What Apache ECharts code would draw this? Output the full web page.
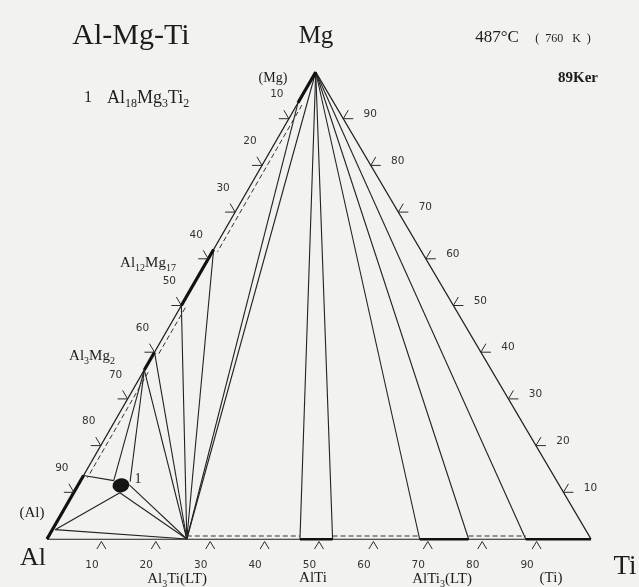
<!DOCTYPE html>
<html>
<head>
<meta charset="utf-8">
<script src="https://cdn.jsdelivr.net/npm/echarts@6/dist/echarts.min.js"></script>
<style>
  html, body { margin: 0; padding: 0; background: #f2f2f0; }
  #chart { width: 639px; height: 587px; }
</style>
</head>
<body>
<div id="chart"></div>
<script>
// Compositions in at.%, written as [Al, Mg, Ti]
const AL = [100, 0, 0];
const MG = [0, 100, 0];
const TI = [0, 0, 100];
const MG_SS_LIMIT = [6.6, 93.4, 0];
const AL12MG17_MG_RICH = [38, 62, 0];
const AL12MG17_AL_RICH = [50, 50, 0];
const AL3MG2_MG_RICH = [60, 40, 0];
const AL3MG2_AL_RICH = [63.8, 36.2, 0];
const AL_SS_LIMIT = [86.4, 13.6, 0];
const AL_SS_TI = [97.5, 2.0, 0.5];
const AL3TI = [74.3, 0, 25.7];
const ALTI_AL_RICH = [53.5, 0, 46.5];
const ALTI_TI_RICH = [47.5, 0, 52.5];
const ALTI3_AL_RICH = [31.5, 0, 68.5];
const ALTI3_TI_RICH = [22.5, 0, 77.5];
const TI_SS_LIMIT = [12, 0, 88];

// Ternary phase 1 (Al18Mg3Ti2): centre and the points where tie lines meet it
const T1_CENTRE = [80.6, 11.5, 7.9];
const T1_WEST = [81.4, 12.5, 6.1];
const T1_NORTH = [78.5, 12.3, 9.2];
const T1_SOUTH = [81.6, 9.9, 8.5];
const T1_EAST = [79.0, 11.6, 9.4];

// Single-phase ranges along the binary edges (heavy lines)
const singlePhaseRanges = [
  [MG, MG_SS_LIMIT],
  [AL12MG17_MG_RICH, AL12MG17_AL_RICH],
  [AL3MG2_MG_RICH, AL3MG2_AL_RICH],
  [AL_SS_LIMIT, AL],
  [ALTI_AL_RICH, ALTI_TI_RICH],
  [ALTI3_AL_RICH, ALTI3_TI_RICH],
  [TI_SS_LIMIT, TI]
];

// Tie lines and three-phase triangle sides
const tieLines = [
  [MG, ALTI_AL_RICH], [MG, ALTI_TI_RICH],
  [MG, ALTI3_AL_RICH], [MG, ALTI3_TI_RICH],
  [MG, TI_SS_LIMIT],
  [MG, AL3TI], [MG_SS_LIMIT, AL3TI],
  [AL12MG17_MG_RICH, AL3TI], [AL12MG17_AL_RICH, AL3TI],
  [AL3MG2_MG_RICH, AL3TI], [AL3MG2_AL_RICH, AL3TI],
  [AL3MG2_AL_RICH, T1_WEST], [AL3MG2_AL_RICH, T1_NORTH],
  [AL_SS_LIMIT, T1_WEST],
  [AL_SS_TI, T1_SOUTH], [AL_SS_TI, AL3TI],
  [T1_SOUTH, AL3TI], [T1_EAST, AL3TI]
];

// Two-phase stretches of the binaries, drawn dashed just inside the edge
const dashedSegments = [
  [MG_SS_LIMIT, AL12MG17_MG_RICH],
  [AL12MG17_AL_RICH, AL3MG2_MG_RICH],
  [AL3MG2_AL_RICH, AL_SS_LIMIT],
  [AL3TI, ALTI_AL_RICH],
  [ALTI_TI_RICH, ALTI3_AL_RICH],
  [ALTI3_TI_RICH, TI_SS_LIMIT]
];

const triangleEdges = [[AL, TI], [TI, MG], [MG, AL]];
const tickValues = [10, 20, 30, 40, 50, 60, 70, 80, 90];

// Projection of a composition onto the plane of the diagram
const APEX_SHIFT = 0.494;
function toXY(c) { return [c[2] + APEX_SHIFT * c[1], c[1]]; }
function segData(list) { return list.map(s => ({ coords: [toXY(s[0]), toXY(s[1])] })); }

const INK = '#1c1c1c';
const SERIF = '"Liberation Serif", "DejaVu Serif", serif';
const SANS = '"DejaVu Sans", "Liberation Sans", sans-serif';

function chem(parts) {
  // parts: alternating normal / subscript strings
  return parts.map((p, i) => (i % 2 === 0 ? '{n|' + p + '}' : '{s|' + p + '}')).join('');
}
function richStyle(size) {
  return {
    n: { fontFamily: SERIF, fontSize: size, lineHeight: size + 5, fill: INK, color: INK },
    s: { fontFamily: SERIF, fontSize: Math.round(size * 0.68), lineHeight: Math.round(size * 0.68), verticalAlign: 'bottom', fill: INK, color: INK }
  };
}
function textEl(x, y, text, size, opts) {
  opts = opts || {};
  return {
    type: 'text', x: x, y: y, silent: true,
    style: {
      text: text, align: opts.align || 'center', verticalAlign: 'middle',
      fontFamily: opts.family || SERIF, fontSize: size, fontWeight: opts.weight || 'normal',
      fill: INK, rich: opts.rich
    }
  };
}

const chart = echarts.init(document.getElementById('chart'), null, { renderer: 'canvas' });

chart.setOption({
  backgroundColor: '#f2f2f0',
  animation: false,
  grid: { left: 47, right: 48, top: 72, bottom: 48 },
  xAxis: { type: 'value', min: 0, max: 100, show: false },
  yAxis: { type: 'value', min: 0, max: 100, show: false },
  series: [
    {
      type: 'lines', coordinateSystem: 'cartesian2d', silent: true, z: 2,
      lineStyle: { color: INK, width: 1.3, opacity: 1 },
      data: segData(triangleEdges)
    },
    {
      type: 'lines', coordinateSystem: 'cartesian2d', silent: true, z: 3,
      lineStyle: { color: '#222', width: 1.1, opacity: 1 },
      data: segData(tieLines)
    },
    {
      type: 'lines', coordinateSystem: 'cartesian2d', silent: true, z: 4,
      lineStyle: { color: '#111', width: 3.2, opacity: 1, cap: 'butt' },
      data: segData(singlePhaseRanges)
    },
    {
      type: 'custom', coordinateSystem: 'cartesian2d', silent: true, z: 3,
      data: dashedSegments.map(s => toXY(s[0])),
      renderItem: function (params, api) {
        const seg = dashedSegments[params.dataIndex];
        const a = api.coord(toXY(seg[0]));
        const b = api.coord(toXY(seg[1]));
        const c = api.coord(toXY([100 / 3, 100 / 3, 100 / 3]));
        const dx = b[0] - a[0], dy = b[1] - a[1];
        const len = Math.hypot(dx, dy);
        let nx = -dy / len, ny = dx / len;
        const mx = (a[0] + b[0]) / 2, my = (a[1] + b[1]) / 2;
        if ((c[0] - mx) * nx + (c[1] - my) * ny < 0) { nx = -nx; ny = -ny; }
        const inset = Math.abs(dy) < 1 ? 3 : 4.5;
        return {
          type: 'line',
          shape: { x1: a[0] + nx * inset, y1: a[1] + ny * inset, x2: b[0] + nx * inset, y2: b[1] + ny * inset },
          style: { stroke: '#333', lineWidth: 1, lineDash: [5, 3] }
        };
      }
    },
    {
      type: 'custom', coordinateSystem: 'cartesian2d', silent: true, z: 5,
      data: tickValues.map(v => [v, 0]),
      renderItem: function (params, api) {
        const v = tickValues[params.dataIndex];
        const base = api.coord(toXY([100 - v, 0, v]));
        const right = api.coord(toXY([0, v, 100 - v]));
        const left = api.coord(toXY([v, 100 - v, 0]));
        const st = { stroke: '#2a2a2a', lineWidth: 1, fill: null };
        const lbl = (x, y) => ({
          type: 'text',
          style: { text: String(v), x: x, y: y, align: 'center', verticalAlign: 'middle', fontFamily: SANS, fontSize: 10.5, fill: '#333' }
        });
        return {
          type: 'group',
          children: [
            { type: 'polyline', shape: { points: [[base[0] - 4.5, base[1] + 10], [base[0], base[1] + 2.5], [base[0] + 4.5, base[1] + 10]] }, style: st },
            { type: 'polyline', shape: { points: [[left[0] - 10, left[1]], [left[0], left[1]], [left[0] - 5, left[1] - 8.5]] }, style: st },
            { type: 'polyline', shape: { points: [[right[0] + 10, right[1]], [right[0], right[1]], [right[0] + 5, right[1] - 8.5]] }, style: st },
            lbl(base[0] - 9.5, base[1] + 26),
            lbl(left[0] - 12, left[1] - 24),
            lbl(right[0] + 27, right[1] - 4.5)
          ]
        };
      }
    },
    {
      type: 'scatter', coordinateSystem: 'cartesian2d', silent: true, z: 6,
      symbol: 'circle', symbolSize: [17, 14], symbolRotate: 12,
      itemStyle: { color: '#141414', opacity: 1 },
      data: [toXY(T1_CENTRE)]
    }
  ],
  graphic: [
    textEl(131, 36, 'Al-Mg-Ti', 30),
    textEl(316, 36, 'Mg', 25),
    textEl(497, 38, '487°C', 17),
    textEl(563, 39, '(  760   K  )', 12),
    textEl(578, 78, '89Ker', 15, { weight: 'bold' }),
    textEl(88, 98, '1', 16),
    textEl(107, 98, chem(['Al', '18', 'Mg', '3', 'Ti', '2']), 18, { align: 'left', rich: richStyle(18) }),
    textEl(273, 78, '(Mg)', 14),
    textEl(148, 263, chem(['Al', '12', 'Mg', '17']), 15, { rich: richStyle(15) }),
    textEl(92, 356, chem(['Al', '3', 'Mg', '2']), 15, { rich: richStyle(15) }),
    textEl(32, 513, '(Al)', 15),
    textEl(138, 479, '1', 14),
    textEl(33, 558, 'Al', 26),
    textEl(625, 567, 'Ti', 27),
    textEl(177, 579, chem(['Al', '3', 'Ti(LT)']), 15, { rich: richStyle(15) }),
    textEl(313, 578, 'AlTi', 15),
    textEl(442, 579, chem(['AlTi', '3', '(LT)']), 15, { rich: richStyle(15) }),
    textEl(551, 578, '(Ti)', 15)
  ]
});
</script>
</body>
</html>
